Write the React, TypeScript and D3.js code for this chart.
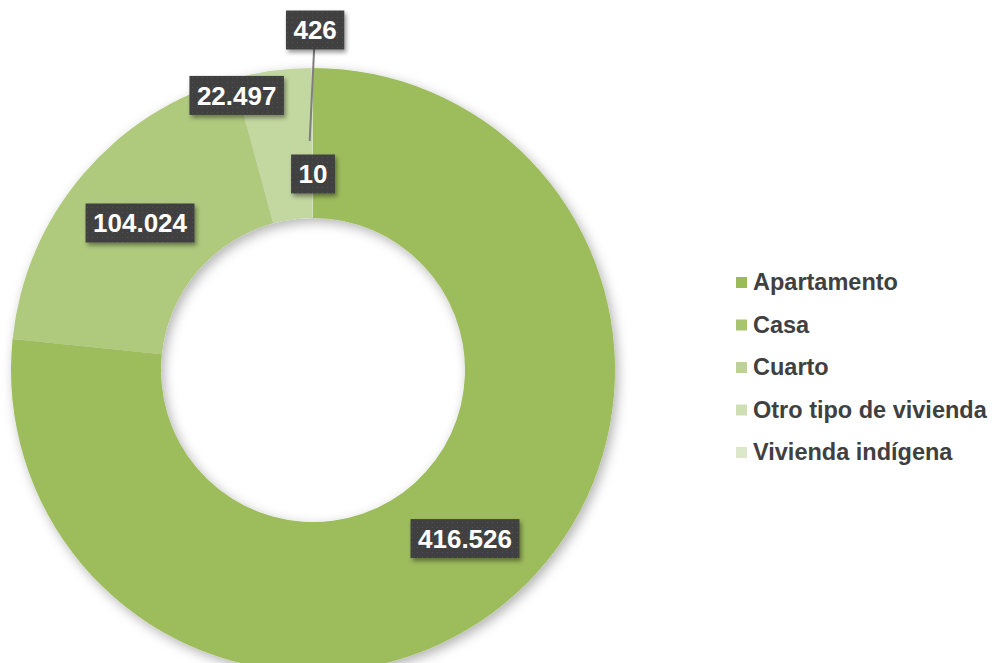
import React from "react";
import * as d3 from "d3";

const categories = ["Apartamento", "Casa", "Cuarto", "Otro tipo de vivienda", "Vivienda indígena"];
const values = [10, 416526, 104024, 22497, 426];

// style
const sliceColors = ["#9BBB59", "#9DBC5C", "#AFC97D", "#C3D7A0", "#D4E2B8"];
const legendColors = ["#9BBB59", "#A8C46F", "#BCD296", "#CFDFB4", "#DDE8CA"];
// label placement in polar terms: [angle offset (deg) from slice mid, radius] ; null = centroid
const labelPlacement: ([number, number] | null)[] = [
  [0, 196],
  null,
  null,
  [-7.8, 285],
  [0.5, 340],
];

const W = 995;
const H = 663;
const cx = 313;
const cy = 370;
const R = 302;
const r0 = 152;

const locale = d3.formatLocale({ decimal: ",", thousands: ".", grouping: [3], currency: ["", ""] });
const fmt = locale.format(",d");

export default function App() {
  const pie = d3.pie<number>().sort(null).value((d) => d);
  const arcs = pie(values);
  const arc = d3.arc<d3.PieArcDatum<number>>().innerRadius(r0).outerRadius(R);
  const midR = (R + r0) / 2;

  const labels = arcs.map((a, i) => {
    const mid = (a.startAngle + a.endAngle) / 2;
    const p = labelPlacement[i];
    const ang = p ? mid + (p[0] * Math.PI) / 180 : mid;
    const rad = p ? p[1] : midR;
    return {
      x: cx + rad * Math.sin(ang),
      y: cy - rad * Math.cos(ang),
      text: fmt(values[i]),
      leader: i === 4,
      anchorX: cx + (midR + 2) * Math.sin(mid - 0.012),
      anchorY: cy - (midR + 2) * Math.cos(mid - 0.012),
    };
  });

  const fontSize = 26;
  const charW = (t: string) =>
    t.split("").reduce((s, c) => s + (c === "." ? 0.278 : 0.556), 0) * fontSize;

  const legendX = 736;
  const legendY0 = 282;
  const legendStep = 42.5;

  return (
    <svg width={W} height={H} style={{ position: "absolute", left: 0, top: 0 }}>
      <defs>
        <filter id="ds" x="-20%" y="-20%" width="140%" height="140%">
          <feDropShadow dx="3" dy="4" stdDeviation="6" floodColor="#000" floodOpacity="0.3" />
        </filter>
        <filter id="lds" x="-20%" y="-20%" width="150%" height="160%">
          <feDropShadow dx="2" dy="3" stdDeviation="2" floodColor="#000" floodOpacity="0.4" />
        </filter>
        <pattern id="dots" width="5" height="5" patternUnits="userSpaceOnUse">
          <rect width="5" height="5" fill="#404040" />
          <circle cx="2.5" cy="2.5" r="0.6" fill="#555" />
        </pattern>
      </defs>
      <rect width={W} height={H} fill="#fff" />
      <g transform={`translate(${cx},${cy})`} filter="url(#ds)">
        {arcs.map((a, i) => (
          <path key={i} d={arc(a) || ""} fill={sliceColors[i]} />
        ))}
      </g>
      {labels.map((l, i) =>
        l.leader ? (
          <line
            key={"ll" + i}
            x1={l.x - 1}
            y1={l.y + 19}
            x2={l.anchorX}
            y2={l.anchorY}
            stroke="#7F7F7F"
            strokeWidth={2}
          />
        ) : null
      )}
      {labels.map((l, i) => {
        const tw = charW(l.text);
        const bw = tw + 15;
        const bh = 39;
        return (
          <g key={"lb" + i}>
            <rect
              x={l.x - bw / 2}
              y={l.y - bh / 2}
              width={bw}
              height={bh}
              fill="url(#dots)"
              filter="url(#lds)"
            />
            <text
              x={l.x}
              y={l.y}
              dy="0.36em"
              textAnchor="middle"
              fill="#fff"
              fontFamily="'Liberation Sans', Arial, sans-serif"
              fontWeight="bold"
              fontSize={fontSize}
            >
              {l.text}
            </text>
          </g>
        );
      })}
      {categories.map((c, i) => (
        <g key={c} transform={`translate(${legendX},${legendY0 + i * legendStep})`}>
          <rect x={0} y={-5} width={11} height={11} fill={legendColors[i]} />
          <text
            x={17}
            y={0}
            dy="0.36em"
            fill="#404040"
            fontFamily="'Liberation Sans', Arial, sans-serif"
            fontWeight="bold"
            fontSize={23.5}
          >
            {c}
          </text>
        </g>
      ))}
    </svg>
  );
}
